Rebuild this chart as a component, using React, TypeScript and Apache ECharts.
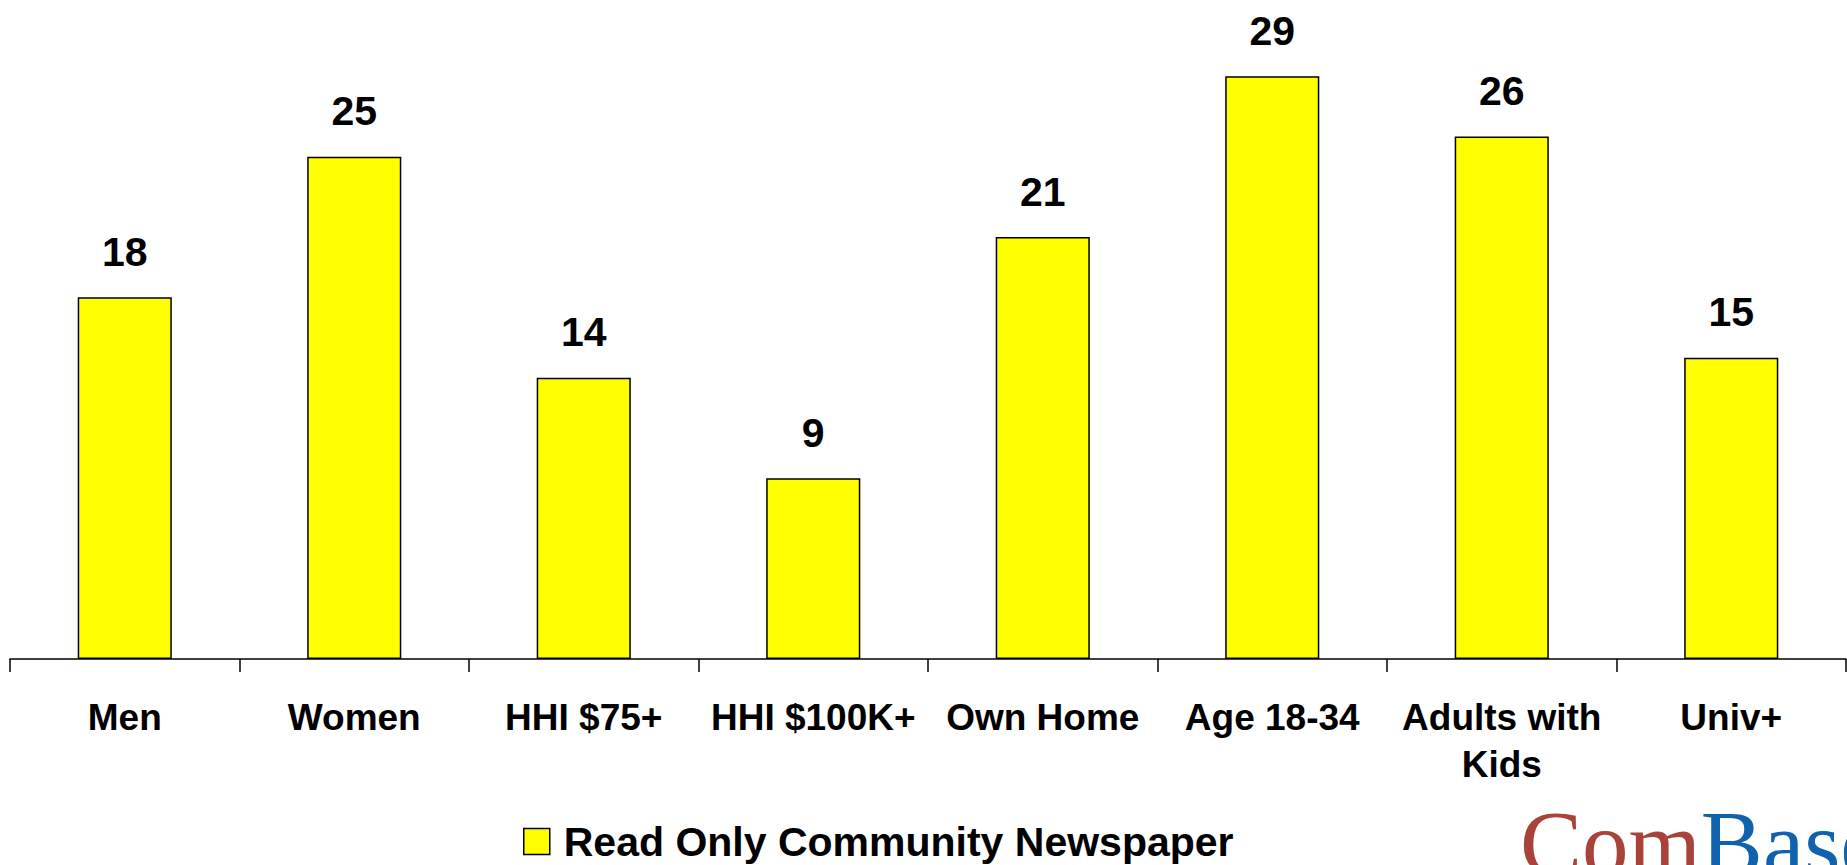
import React, { useEffect, useRef } from "react";
import * as echarts from "echarts";

const categories = ["Men", "Women", "HHI $75+", "HHI $100K+", "Own Home", "Age 18-34", "Adults with Kids", "Univ+"];
const seriesName = "Read Only Community Newspaper";
const values = [18, 25, 14, 9, 21, 29, 26, 15];

export default function App() {
  const ref = useRef<HTMLDivElement>(null);
  useEffect(() => {
    if (!ref.current) return;
    const chart = echarts.init(ref.current, null, { renderer: "svg" });
    const font = "'Liberation Sans', Arial, sans-serif";
    chart.setOption({
      animation: false,
      backgroundColor: "#ffffff",
      grid: { left: 10, right: 1, top: 0, bottom: 206, containLabel: false },
      legend: {
        data: [seriesName],
        left: 518,
        top: 816,
        itemWidth: 26,
        itemHeight: 26,
        icon: "rect",
        itemStyle: { color: "#FFFF00", borderColor: "#000", borderWidth: 1.5 },
        textStyle: { fontFamily: font, fontWeight: "bold", fontSize: 41, color: "#000", padding: [0, 0, 0, 9] },
      },
      xAxis: {
        type: "category",
        data: categories,
        axisLine: { show: true, lineStyle: { color: "#000", width: 1.5 } },
        axisTick: { show: true, length: 13, interval: 0, lineStyle: { color: "#000", width: 1.5 } },
        axisLabel: {
          interval: 0,
          margin: 35,
          fontFamily: font,
          fontWeight: "bold",
          fontSize: 37,
          lineHeight: 47,
          color: "#000",
          formatter: (v: string) => (v === "Adults with Kids" ? "Adults with\nKids" : v),
        },
      },
      yAxis: { type: "value", min: 0, max: 32.8, show: false, splitLine: { show: false } },
      series: [
        {
          name: seriesName,
          type: "bar",
          data: values,
          barCategoryGap: "59%",
          itemStyle: { color: "#FFFF00", borderColor: "#000", borderWidth: 1.5 },
          label: {
            show: true,
            position: "top",
            distance: 25,
            fontFamily: font,
            fontWeight: "bold",
            fontSize: 41,
            color: "#000",
          },
        },
      ],
      graphic: [
        {
          type: "text",
          left: 1520,
          top: 797,
          style: {
            text: "{a|Com}{b|Base}",
            rich: {
              a: { fill: "#A9423A", fontFamily: "'Liberation Serif', 'Times New Roman', serif", fontSize: 93 },
              b: { fill: "#0F62AE", fontFamily: "'Liberation Serif', 'Times New Roman', serif", fontSize: 93 },
            },
          },
        },
      ],
    });
    return () => chart.dispose();
  }, []);
  return <div ref={ref} style={{ position: "fixed", left: 0, top: 0, width: 1847, height: 865 }} />;
}
